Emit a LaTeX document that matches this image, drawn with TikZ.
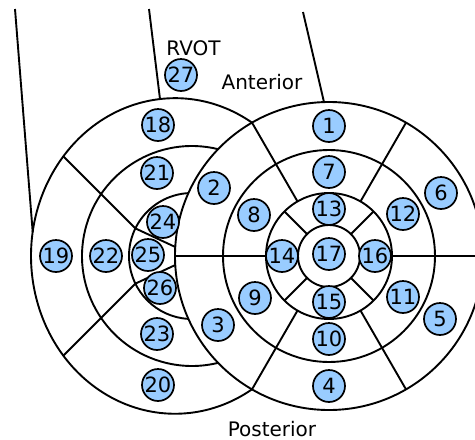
\documentclass[tikz,border=0pt]{standalone}
\usepackage{fontspec}
\setmainfont{DejaVu Sans}
\definecolor{segfill}{RGB}{153,204,255}
\tikzset{
  seg/.style={circle, draw=black, line width=1.7pt, fill=segfill,
    minimum size=32pt, inner sep=0pt, font=\fontsize{21}{21}\selectfont},
  wall/.style={line width=1.9pt, line join=round},
  caption/.style={anchor=base, inner sep=0pt, font=\fontsize{20}{24}\selectfont}
}
\begin{document}
\begin{tikzpicture}[x=1pt, y=-1pt]
\useasboundingbox (0,0) rectangle (475,440);
\coordinate (lv) at (329,256);
\coordinate (rv) at (192,256);

% left ventricle: basal, mid, apical rings and apex
\draw[wall] (lv) circle[radius=154];
\draw[wall] (lv) circle[radius=106];
\draw[wall] (lv) circle[radius=63];
\draw[wall] (lv) circle[radius=31];
\foreach \a in {0,60,120,180,240,300}
  \draw[wall] ([shift={(\a:63)}]lv) -- ([shift={(\a:154)}]lv);
\foreach \a in {45,135,225,315}
  \draw[wall] ([shift={(\a:31)}]lv) -- ([shift={(\a:63)}]lv);

% right ventricle wrapped round the left one
\draw[wall] ([shift={(-120:154)}]lv)
  arc[start angle=-57.68, end angle=-302.32, x radius=144, y radius=157.8];
\draw[wall] ([shift={(-76.3:110)}]rv) arc[start angle=-76.3, end angle=-283.7, radius=110];
\draw[wall] ([shift={(-93.25:63)}]rv) arc[start angle=-93.25, end angle=-266.75, radius=63];
\coordinate (j1) at ([shift={(-154:63)}]rv);
\coordinate (j2) at ([shift={(154:63)}]rv);
\coordinate (o1) at (63.4,156.4);
\coordinate (o2) at (63.4,355.6);
\coordinate (w1) at (175.3,247);
\coordinate (w2) at (175.3,265);
\draw[wall] (o1) -- (j1) -- (w1);
\draw[wall] (o2) -- (j2) -- (w2);

% outflow walls above
\coordinate (t1) at (15,9);    \coordinate (b1) at (32.7,232);
\coordinate (t2) at (149,9);   \coordinate (b2) at (160,99.1);
\coordinate (t3) at (303,12);  \coordinate (b3) at (324,102.1);
\draw[wall] (t1) -- (b1);
\draw[wall] (t2) -- (b2);
\draw[wall] (t3) -- (b3);

% captions
\node[caption] (rvot) at (193.5,55) {RVOT};
\node[caption] (ant) at (262,89) {Anterior};
\node[caption] (post) at (272,436.5) {Posterior};

% left ventricle segments
\node[seg] (s1)  at (329,126) {1};
\node[seg] (s2)  at (214,188) {2};
\node[seg] (s3)  at (218,325) {3};
\node[seg] (s4)  at (329,386) {4};
\node[seg] (s5)  at (440,319) {5};
\node[seg] (s6)  at (441,193) {6};
\node[seg] (s7)  at (329,172) {7};
\node[seg] (s8)  at (254,215) {8};
\node[seg] (s9)  at (255,298) {9};
\node[seg] (s10) at (329,339) {10};
\node[seg] (s11) at (403,297) {11};
\node[seg] (s12) at (403,214) {12};
\node[seg] (s13) at (329,209) {13};
\node[seg] (s14) at (282,256) {14};
\node[seg] (s15) at (329,302) {15};
\node[seg] (s16) at (375,256) {16};
\node[seg] (s17) at (329,254) {17};

% right ventricle segments
\node[seg] (s18) at (158,125) {18};
\node[seg] (s19) at (56,256)  {19};
\node[seg] (s20) at (158,385) {20};
\node[seg] (s21) at (157,173) {21};
\node[seg] (s22) at (106,256) {22};
\node[seg] (s23) at (157,334) {23};
\node[seg] (s24) at (163,222) {24};
\node[seg] (s25) at (148,255) {25};
\node[seg] (s26) at (160,288) {26};
\node[seg] (s27) at (181,75)  {27};
\end{tikzpicture}
\end{document}
